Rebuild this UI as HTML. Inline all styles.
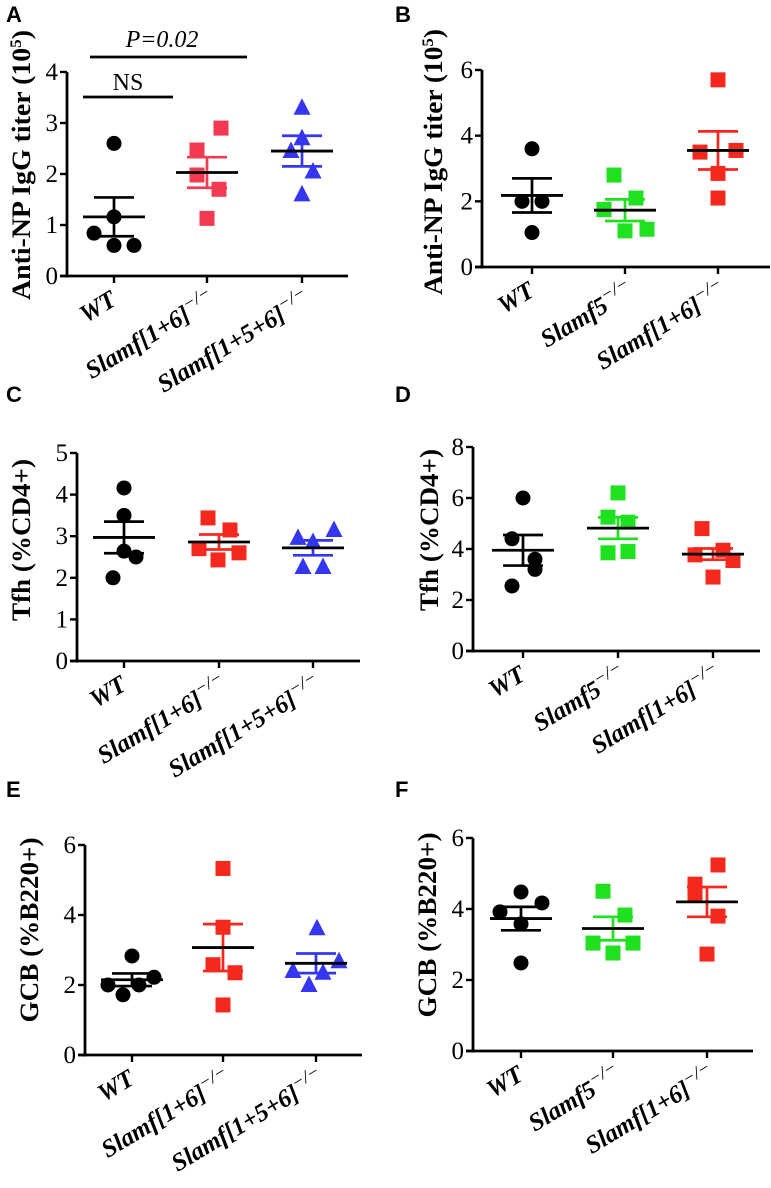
<!DOCTYPE html>
<html><head><meta charset="utf-8"><style>
html,body{margin:0;padding:0;background:#fff;}
svg{display:block;}
</style></head><body>
<svg id="fig" width="771" height="1188" viewBox="0 0 771 1188" xmlns="http://www.w3.org/2000/svg" font-family="Liberation Serif, serif"></svg>
<script>
// ---- data ----
const catsA = ["WT","Slamf[1+6]","Slamf[1+5+6]"];
const catsB = ["WT","Slamf5","Slamf[1+6]"];
const ticksA = [0,1,2,3,4];
const ticksB = [0,2,4,6];
const ticksC = [0,1,2,3,4,5];
const ticksD = [0,2,4,6,8];
const ticksE = [0,2,4,6];
const ticksF = [0,2,4,6];
const A_wt = [2.6,0.84,1.16,0.6,0.6];
const A_g2 = [2.9,2.47,1.98,1.7,1.13];
const A_g3 = [3.3,2.7,2.45,2.05,1.6];
const A_mean = [1.16,2.03,2.45];
const A_sem = [0.38,0.30,0.30];
const B_wt = [3.6,2.0,2.0,1.05];
const B_g2 = [2.8,2.1,1.75,1.1,1.15];
const B_g3 = [5.7,3.5,3.55,2.85,2.1];
const B_mean = [2.18,1.73,3.55];
const B_sem = [0.52,0.33,0.58];
const C_wt = [4.16,3.5,2.0,2.5,2.64];
const C_g2 = [3.44,3.15,2.7,2.6,2.43];
const C_g3 = [2.96,2.86,3.15,2.26,2.26];
const C_mean = [2.97,2.86,2.72];
const C_sem = [0.38,0.18,0.18];
const D_wt = [6.0,4.4,3.6,3.2,2.55];
const D_g2 = [6.2,5.25,5.05,3.85,3.9];
const D_g3 = [4.8,3.77,3.95,3.55,2.9];
const D_mean = [3.95,4.82,3.8];
const D_sem = [0.6,0.42,0.22];
const E_wt = [2.83,2.0,2.22,2.0,1.72];
const E_g2 = [5.33,3.65,2.58,2.35,1.43];
const E_g3 = [3.62,2.68,2.4,2.35,2.0];
const E_mean = [2.15,3.07,2.62];
const E_sem = [0.18,0.67,0.28];
const F_wt = [4.48,4.17,3.92,3.58,2.48];
const F_g2 = [4.5,3.83,3.04,3.04,2.76];
const F_g3 = [5.24,4.7,4.45,3.8,2.73];
const F_mean = [3.73,3.45,4.2];
const F_sem = [0.33,0.33,0.42];

const NS="http://www.w3.org/2000/svg";
const svg=document.getElementById('fig');
function el(tag,attrs,parent){const e=document.createElementNS(NS,tag);for(const k in attrs)e.setAttribute(k,attrs[k]);(parent||svg).appendChild(e);return e;}

const J = {
 A:[[0,-20,0,0,20],[14,-10,-10,12,0],[0,0,-11,11,0]],
 B:[[0,-10,10,0],[-11,11,-21,0,22],[0,-18,18,0,0]],
 C:[[0,0,-11,12,0],[-11,11,-20,20,-1],[-15,0,21,-10,10]],
 D:[[0,-11,12,12,-11],[0,-10,10,-10,10],[-11,-18,10,20,0]],
 E:[[0,-24,22,7,-9],[0,0,-10,12,0],[1,23,-23,7,-7]],
 F:[[0,21,-21,0,0],[-10,12,-20,20,0],[11,-12,-12,11,0]]
};

function panel(cfg){
  const g=el('g',{});
  
  
  const yS=v=>cfg.y0-(v-cfg.ticks[0])/(cfg.ticks[cfg.ticks.length-1]-cfg.ticks[0])*(cfg.y0-cfg.yTop);
  const L=el('text',{x:cfg.lx,y:cfg.ly,'font-family':'Liberation Sans, sans-serif','font-weight':'bold','font-size':22},g);
  L.textContent=cfg.id;
  
  
  const ya=el('line',{x1:cfg.ax,y1:cfg.yTop,x2:cfg.ax,y2:cfg.y0+1.5,stroke:'#000','stroke-width':2.8},g);
  
  
  const xa=el('line',{x1:cfg.ax-7,y1:cfg.y0,x2:cfg.axEnd,y2:cfg.y0,stroke:'#000','stroke-width':2.8},g);
  
  
  cfg.ticks.forEach(t=>{
    const y=yS(t);
    el('line',{x1:cfg.ax-7,y1:y,x2:cfg.ax,y2:y,stroke:'#000','stroke-width':2.4},g);
    const tt=el('text',{x:cfg.ax-9,y:y+8,'text-anchor':'end','font-size':25},g);
    tt.textContent=t;
    
    
  });
  const ty=el('text',{transform:`translate(${cfg.tx},${cfg.ty}) rotate(-90)`,'text-anchor':'middle','font-weight':'bold','font-size':26,textLength:cfg.tlen,lengthAdjust:'spacingAndGlyphs'},g);
  ty.innerHTML=cfg.title;
  
  
  cfg.cx.forEach((x,i)=>{
    el('line',{x1:x,y1:cfg.y0,x2:x,y2:cfg.y0+7,stroke:'#000','stroke-width':2.4},g);
    const c=cfg.cats[i];
    const lab=el('text',{transform:`translate(${x+(c==='WT'?4:10)},${cfg.y0+28}) rotate(-31)`,'text-anchor':'end','font-weight':'bold','font-style':'italic','font-size':25},g);
    lab.innerHTML = c==='WT' ? 'WT' : c+'<tspan dy="-10" font-size="18" font-weight="normal">−/−</tspan>';
    
    
  });
  cfg.groups.forEach((vals,gi)=>{
    const x=cfg.cx[gi], col=cfg.colors[gi], shape=cfg.shapes[gi];
    vals.forEach((v,k)=>{
      const px=x+J[cfg.id][gi][k], py=yS(v);
      let m;
      if(shape==='c') m=el('circle',{cx:px,cy:py,r:7.5,fill:col},g);
      else if(shape==='s') m=el('rect',{x:px-7.5,y:py-7.5,width:15,height:15,fill:col},g);
      else m=el('polygon',{points:`${px},${py-9.5} ${px-8.5},${py+7} ${px+8.5},${py+7}`,fill:col},g);
      
      
    });
  });
  cfg.mean.forEach((m,gi)=>{
    const x=cfg.cx[gi], col=cfg.errColors[gi];
    const hi=yS(m+cfg.sem[gi]), lo=yS(m-cfg.sem[gi]), my=yS(m);
    const eb=el('path',{d:`M${x-20},${hi}H${x+20}M${x},${hi}V${lo}M${x-20},${lo}H${x+20}`,stroke:col,'stroke-width':2.7,fill:'none'},g);
    
    
    const ml=el('line',{x1:x-31,y1:my,x2:x+31,y2:my,stroke:'#000','stroke-width':2.8},g);
    
    
  });
  return g;
}
const BLK='#000', RED='#f5281e', PINK='#f33a52', BLUE='#3536ef', GRN='#1fe11f';
const titleAB='Anti-NP IgG titer (10<tspan dy="-9" font-size="16">5</tspan><tspan dy="9">)</tspan>';
const gA=panel({id:'A',lx:6,ly:22,ax:67,axEnd:348,y0:276,yTop:72,ticks:ticksA,tx:30,ty:165,tlen:270,title:titleAB,cx:[114,207,302],cats:catsA,
  groups:[A_wt,A_g2,A_g3],mean:A_mean,sem:A_sem,colors:[BLK,PINK,BLUE],errColors:[BLK,PINK,BLUE],shapes:['c','s','t']});
panel({id:'B',lx:395,ly:22,ax:482,axEnd:770,y0:267,yTop:70,ticks:ticksB,tx:442,ty:162,tlen:266,title:titleAB,cx:[532,625,718],cats:catsB,
  groups:[B_wt,B_g2,B_g3],mean:B_mean,sem:B_sem,colors:[BLK,GRN,RED],errColors:[BLK,GRN,RED],shapes:['c','s','s']});
panel({id:'C',lx:6,ly:402,ax:77,axEnd:360,y0:661,yTop:453,ticks:ticksC,tx:30,ty:540,tlen:162,title:'Tfh (%CD4+)',cx:[124,219,313],cats:catsA,
  groups:[C_wt,C_g2,C_g3],mean:C_mean,sem:C_sem,colors:[BLK,RED,BLUE],errColors:[BLK,RED,BLUE],shapes:['c','s','t']});
panel({id:'D',lx:395,ly:402,ax:473,axEnd:760,y0:651,yTop:447,ticks:ticksD,tx:438,ty:530,tlen:162,title:'Tfh (%CD4+)',cx:[523,618,713],cats:catsB,
  groups:[D_wt,D_g2,D_g3],mean:D_mean,sem:D_sem,colors:[BLK,GRN,RED],errColors:[BLK,GRN,RED],shapes:['c','s','s']});
panel({id:'E',lx:6,ly:797,ax:85,axEnd:362,y0:1055,yTop:845,ticks:ticksE,tx:38,ty:930,tlen:185,title:'GCB (%B220+)',cx:[132,223,316],cats:catsA,
  groups:[E_wt,E_g2,E_g3],mean:E_mean,sem:E_sem,colors:[BLK,RED,BLUE],errColors:[BLK,RED,BLUE],shapes:['c','s','t']});
panel({id:'F',lx:395,ly:797,ax:473,axEnd:753,y0:1051,yTop:838,ticks:ticksF,tx:436,ty:925,tlen:185,title:'GCB (%B220+)',cx:[521,613,707],cats:catsB,
  groups:[F_wt,F_g2,F_g3],mean:F_mean,sem:F_sem,colors:[BLK,GRN,RED],errColors:[BLK,GRN,RED],shapes:['c','s','s']});
const b1=el('line',{x1:90,y1:57,x2:247,y2:57,stroke:'#000','stroke-width':2.8},gA);


const t1=el('text',{x:162,y:47,'text-anchor':'middle','font-style':'italic','font-size':24},gA);
t1.textContent='P=0.02';


const b2=el('line',{x1:83,y1:97,x2:173,y2:97,stroke:'#000','stroke-width':2.8},gA);


const t2=el('text',{x:128,y:90,'text-anchor':'middle','font-size':24},gA);
t2.textContent='NS';


</script>
</body></html>
